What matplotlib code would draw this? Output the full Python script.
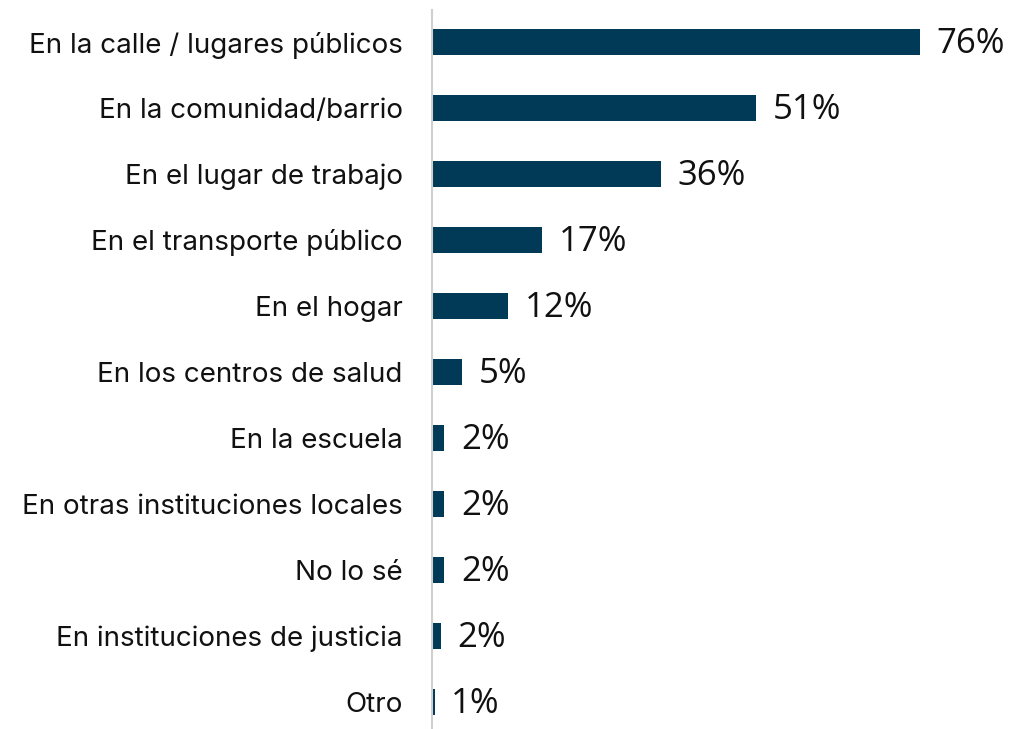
import matplotlib
matplotlib.use("Agg")
import matplotlib.pyplot as plt

categorias = [
    "En la calle / lugares públicos",
    "En la comunidad/barrio",
    "En el lugar de trabajo",
    "En el transporte público",
    "En el hogar",
    "En los centros de salud",
    "En la escuela",
    "En otras instituciones locales",
    "No lo sé",
    "En instituciones de justicia",
    "Otro",
]
valores = [76, 50.5, 35.6, 17.2, 11.9, 4.7, 1.9, 1.9, 1.9, 1.4, 0.4]
etiquetas = ["76%", "51%", "36%", "17%", "12%", "5%", "2%", "2%", "2%", "2%", "1%"]

W, H = 1010, 729
fig = plt.figure(figsize=(W / 100, H / 100), dpi=100)
# eje en pixeles: x 432..1010, y 10..729
ax = fig.add_axes([432 / W, 0, (W - 432) / W, (H - 10) / H])

color = "#003a57"
pos = list(range(len(categorias)))
ax.barh(pos, valores, height=0.4, color=color)

for y, v, t in zip(pos, valores, etiquetas):
    ax.text(v + 2.6, y + 0.03, t, va="center", ha="left", fontsize=25,
            family="Open Sans", color="#111111")

ax.set_xlim(0, 90)
ax.set_ylim(10.41, -0.485)
ax.set_yticks(pos)
ax.set_yticklabels(categorias, fontsize=20, family="Inter", color="#111111")
ax.tick_params(axis="y", length=0, pad=21)
ax.set_xticks([])
for s in ["top", "right", "bottom"]:
    ax.spines[s].set_visible(False)
ax.spines["left"].set_color("#d0d0d0")
ax.spines["left"].set_linewidth(1.5)

fig.savefig("out.png", dpi=100)
